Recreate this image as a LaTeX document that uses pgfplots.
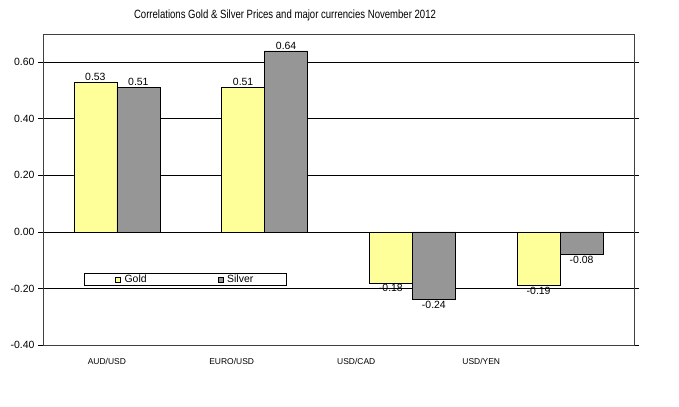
\documentclass[border=0pt]{standalone}
\usepackage{pgfplots}
\pgfplotsset{compat=1.18}
\usepackage{fontspec}
\setmainfont{Liberation Sans}
\usepackage{graphicx}

\definecolor{goldfill}{HTML}{FFFF99}
\definecolor{silverfill}{HTML}{969696}
\definecolor{frame}{HTML}{404040}

\begin{document}
\begin{tikzpicture}
\path[use as bounding box] (0,0) rectangle (679bp,407bp);
\node at (285bp,392bp) {\scalebox{0.8}[1]{\fontsize{12}{14}\selectfont Correlations Gold \& Silver Prices and major currencies November 2012}};
\begin{axis}[
  at={(43bp,62bp)}, anchor=south west,
  scale only axis,
  width=591bp, height=311bp,
  xmin=-0.5, xmax=3.5,
  ymin=-0.4, ymax=0.7,
  ytick={-0.4,-0.2,0,0.2,0.4,0.6},
  ymajorgrids,
  grid style={black, line width=0.8pt},
  axis line style={frame, line width=1pt},
  tick align=outside,
  major tick length=5bp,
  ytick style={black, line width=0.8pt},
  xtick={-0.068,0.777,1.62,2.466},
  xticklabels={AUD/USD,EURO/USD,USD/CAD,USD/YEN},
  xtick style={draw=none},
  xticklabel style={font=\fontsize{8.5}{10}\selectfont, yshift=-5bp},
  yticklabel style={font=\fontsize{10.5}{12}\selectfont},
  /pgf/number format/assume math mode=true,
  yticklabel={\pgfmathprintnumber[fixed,fixed zerofill,precision=2]{\tick}},
  ybar=0pt,
  bar width=43bp,
  nodes near coords={\pgfmathprintnumber[fixed,fixed zerofill,precision=2]{\pgfplotspointmeta}},
  every node near coord/.append style={font=\fontsize{10.5}{12}\selectfont, inner sep=1.5pt},
  legend columns=2,
  legend style={at={(axis description cs:0.069,0.19)}, anchor=south west,
    draw=black, line width=0.6pt,
    inner xsep=31bp, inner ysep=0.5bp, font=\fontsize{10.5}{12}\selectfont,
    nodes={inner ysep=1bp, inner xsep=2bp},
    /tikz/every odd column/.append style={column sep=2bp},
    /tikz/every even column/.append style={column sep=69bp}},
  legend image code/.code={\draw[#1, line width=0.5pt] (0bp,-2.5bp) rectangle (5bp,2.5bp);},
]
\addplot[fill=goldfill, draw=black, line width=0.6pt] coordinates {(0,0.53) (1,0.51) (2,-0.18) (3,-0.19)};
\addplot[fill=silverfill, draw=black, line width=0.6pt] coordinates {(0,0.51) (1,0.64) (2,-0.24) (3,-0.08)};
\legend{Gold,Silver}
\end{axis}
\end{tikzpicture}
\end{document}
